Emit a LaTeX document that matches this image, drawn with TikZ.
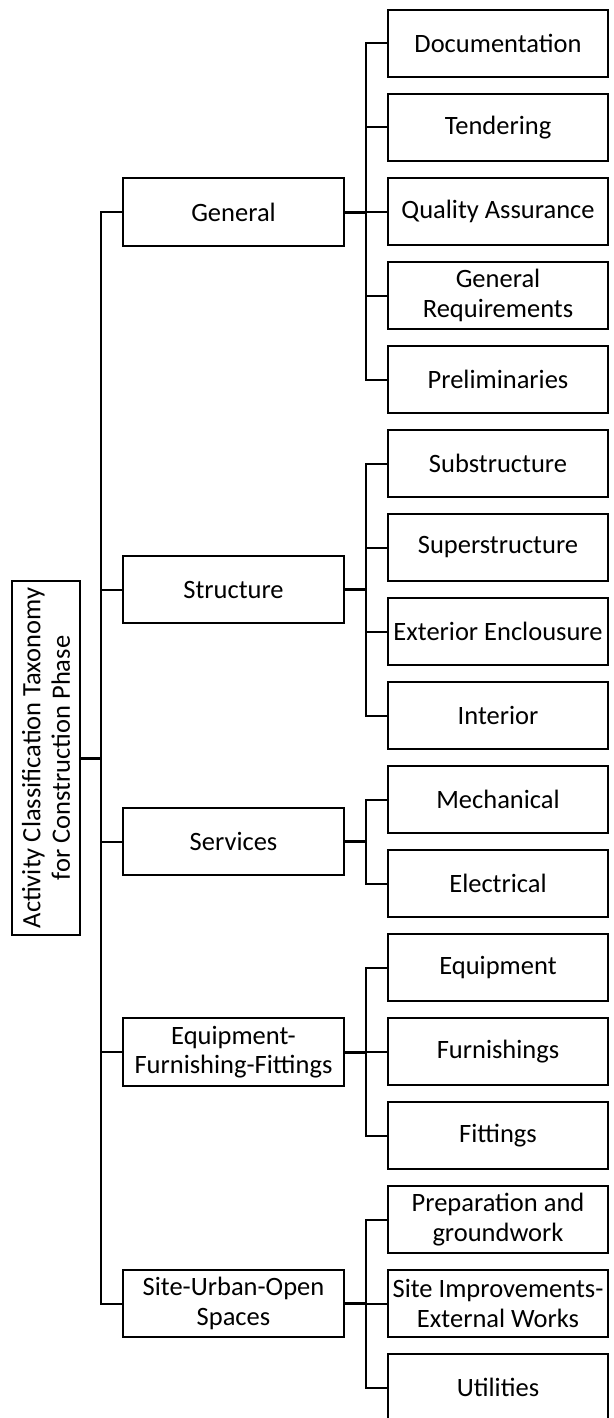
\documentclass[tikz,border=0pt]{standalone}
\usepackage{fontspec}
\setmainfont{Carlito}
\begin{document}
\begin{tikzpicture}[x=1pt,y=-1pt,
  box/.style={draw=black,line width=2pt,fill=white,align=center,inner sep=1pt,
    font=\fontsize{26.5}{29.5}\selectfont},
  leaf/.style={box,minimum width=220pt,minimum height=67pt},
  mid/.style={box,minimum width=221pt,minimum height=67.5pt},
  rootbox/.style={box,rotate=90,minimum width=354pt,minimum height=68pt},
  conn/.style={draw=black,line width=2pt},
  trunk/.style={draw=black,line width=3pt}]
\useasboundingbox (0,0) rectangle (613,1418);
\fill[white] (0,0) rectangle (613,1418);

% root (rotated: its south side faces right)
\node[rootbox] (root) at (46,758) {Activity Classification Taxonomy\\for Construction Phase};

% second level
\node[mid] (gen) at (233.5,212) {General};
\node[mid] (str) at (233.5,589.5) {Structure};
\node[mid] (ser) at (233.5,841.5) {Services};
\node[mid] (eff) at (233.5,1052) {Equipment-\\Furnishing-Fittings};
\node[mid] (site) at (233.5,1303.5) {Site-Urban-Open\\Spaces};

% leaves
\node[leaf] (doc)  at (498,43.5)   {Documentation};
\node[leaf] (ten)  at (498,127.5)  {Tendering};
\node[leaf] (qa)   at (498,211.5)  {Quality Assurance};
\node[leaf] (greq) at (498,295.5)  {General\\Requirements};
\node[leaf] (pre)  at (498,379.5)  {Preliminaries};
\node[leaf] (sub)  at (498,463.5)  {Substructure};
\node[leaf] (sup)  at (498,547.5)  {Superstructure};
\node[leaf] (ext)  at (498,631.5)  {Exterior Enclousure};
\node[leaf] (int)  at (498,715.5)  {Interior};
\node[leaf] (mech) at (498,799.5)  {Mechanical};
\node[leaf] (elec) at (498,883.5)  {Electrical};
\node[leaf] (equ)  at (498,967.5)  {Equipment};
\node[leaf] (fur)  at (498,1051.5) {Furnishings};
\node[leaf] (fit)  at (498,1135.5) {Fittings};
\node[leaf] (prep) at (498,1219.5) {Preparation and\\groundwork};
\node[leaf] (imp)  at (498,1303.5) {Site Improvements-\\External Works};
\node[leaf] (util) at (498,1387.5) {Utilities};

% root to second level
\coordinate (rb) at (101,758);
\draw[trunk] (root.south) -- (rb);
\draw[conn] (gen.west) -| (rb) |- (site.west);
\draw[conn] (rb |- str.west) -- (str.west);
\draw[conn] (rb |- ser.west) -- (ser.west);
\draw[conn] (rb |- eff.west) -- (eff.west);

% General
\coordinate (gb) at (366,212);
\draw[trunk] (gen.east) -- (gb);
\draw[conn] (doc.west) -| (gb) |- (pre.west);
\draw[conn] (gb |- ten.west) -- (ten.west);
\draw[conn] (gb |- qa.west) -- (qa.west);
\draw[conn] (gb |- greq.west) -- (greq.west);

% Structure
\coordinate (sb) at (366,589.5);
\draw[trunk] (str.east) -- (sb);
\draw[conn] (sub.west) -| (sb) |- (int.west);
\draw[conn] (sb |- sup.west) -- (sup.west);
\draw[conn] (sb |- ext.west) -- (ext.west);

% Services
\coordinate (vb) at (366,841.5);
\draw[trunk] (ser.east) -- (vb);
\draw[conn] (mech.west) -| (vb) |- (elec.west);

% Equipment-Furnishing-Fittings
\coordinate (eb) at (366,1052);
\draw[trunk] (eff.east) -- (eb);
\draw[conn] (equ.west) -| (eb) |- (fit.west);
\draw[conn] (eb |- fur.west) -- (fur.west);

% Site-Urban-Open Spaces
\coordinate (tb) at (366,1303.5);
\draw[trunk] (site.east) -- (tb);
\draw[conn] (prep.west) -| (tb) |- (util.west);
\draw[conn] (tb |- imp.west) -- (imp.west);
\end{tikzpicture}
\end{document}
